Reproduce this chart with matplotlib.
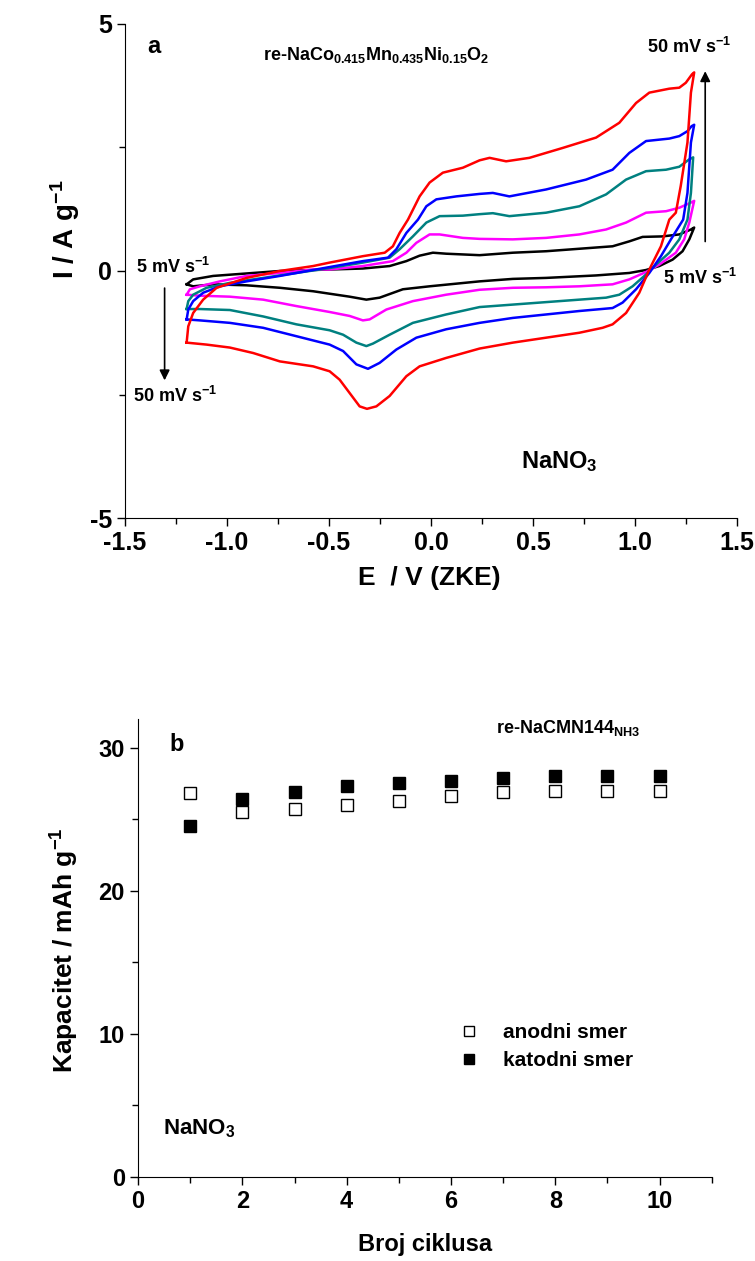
import matplotlib
matplotlib.use('Agg')
import matplotlib.pyplot as plt
from matplotlib.ticker import MultipleLocator

plt.rcParams['font.family'] = ['Liberation Sans', 'DejaVu Sans']
plt.rcParams['font.weight'] = 'bold'
plt.rcParams['axes.labelweight'] = 'bold'
plt.rcParams['axes.unicode_minus'] = False
plt.rcParams['mathtext.fontset'] = 'custom'
plt.rcParams['mathtext.rm'] = 'Liberation Sans:bold'
plt.rcParams['mathtext.it'] = 'Liberation Sans:bold'
plt.rcParams['mathtext.bf'] = 'Liberation Sans:bold'

# ---- (a) CV krive, E / V i I / A g-1, anodni pa katodni smer ----
E_50 = [-1.198, -1.190, -1.166, -1.117, -1.051, -0.904, -0.741, -0.578, -0.497, -0.334,
        -0.227, -0.187, -0.154, -0.113, -0.056, -0.007, 0.058, 0.156, 0.238, 0.287,
        0.368, 0.482, 0.645, 0.809, 0.923, 1.005, 1.070, 1.168, 1.217, 1.249, 1.279, 1.290,
        1.274, 1.257, 1.224, 1.200, 1.168, 1.127, 1.070, 1.021, 0.956, 0.890, 0.841,
        0.727, 0.564, 0.401, 0.238, 0.074, -0.056, -0.121, -0.203, -0.268, -0.314,
        -0.350, -0.399, -0.448, -0.497, -0.578, -0.741, -0.872, -0.986, -1.100, -1.198]
I_50 = [-1.45, -1.12, -0.85, -0.58, -0.34, -0.14, 0.00, 0.10, 0.17, 0.30,
        0.37, 0.50, 0.77, 1.04, 1.51, 1.79, 1.99, 2.09, 2.24, 2.29,
        2.22, 2.29, 2.49, 2.70, 3.00, 3.40, 3.61, 3.69, 3.71, 3.81, 3.98, 4.02,
        3.61, 2.60, 1.72, 1.18, 1.04, 0.50, 0.03, -0.44, -0.85, -1.08, -1.15,
        -1.25, -1.35, -1.45, -1.57, -1.76, -1.93, -2.13, -2.53, -2.74, -2.79,
        -2.74, -2.47, -2.20, -2.03, -1.93, -1.83, -1.66, -1.55, -1.49, -1.45]

E_30 = [-1.198, -1.190, -1.166, -1.117, -1.035, -0.904, -0.741, -0.497, -0.334, -0.211,
        -0.170, -0.121, -0.064, -0.023, 0.026, 0.124, 0.238, 0.303, 0.384, 0.564,
        0.760, 0.890, 0.972, 1.054, 1.168, 1.217, 1.257, 1.277, 1.290,
        1.274, 1.257, 1.236, 1.176, 1.127, 1.070, 1.005, 0.939, 0.890, 0.727,
        0.564, 0.401, 0.238, 0.074, -0.072, -0.170, -0.252, -0.309, -0.366, -0.431,
        -0.497, -0.660, -0.823, -0.986, -1.133, -1.198]
I_30 = [-0.98, -0.78, -0.61, -0.44, -0.31, -0.21, -0.10, 0.08, 0.20, 0.27,
        0.44, 0.77, 1.04, 1.31, 1.45, 1.51, 1.56, 1.58, 1.51, 1.65,
        1.85, 2.05, 2.39, 2.63, 2.68, 2.73, 2.83, 2.93, 2.96,
        2.60, 1.58, 1.04, 0.64, 0.30, -0.04, -0.37, -0.64, -0.75, -0.81,
        -0.88, -0.95, -1.05, -1.18, -1.35, -1.59, -1.86, -1.98, -1.89, -1.62,
        -1.49, -1.32, -1.15, -1.05, -1.00, -0.98]

E_20 = [-1.198, -1.190, -1.166, -1.100, -0.986, -0.823, -0.660, -0.497, -0.334, -0.203,
        -0.154, -0.089, -0.023, 0.042, 0.156, 0.238, 0.303, 0.384, 0.564, 0.727,
        0.858, 0.956, 1.054, 1.152, 1.217, 1.266, 1.285,
        1.274, 1.257, 1.217, 1.168, 1.103, 1.054, 0.988, 0.923, 0.858, 0.727,
        0.564, 0.401, 0.238, 0.074, -0.089, -0.203, -0.285, -0.317, -0.366, -0.431,
        -0.497, -0.660, -0.823, -0.986, -1.133, -1.198]
I_20 = [-0.77, -0.61, -0.48, -0.34, -0.24, -0.14, -0.04, 0.06, 0.17, 0.27,
        0.44, 0.70, 0.98, 1.11, 1.12, 1.15, 1.17, 1.11, 1.18, 1.31,
        1.55, 1.85, 2.02, 2.05, 2.11, 2.26, 2.30,
        1.58, 1.04, 0.64, 0.37, 0.13, -0.07, -0.31, -0.48, -0.54, -0.58,
        -0.63, -0.68, -0.73, -0.88, -1.05, -1.29, -1.47, -1.52, -1.45, -1.29,
        -1.20, -1.08, -0.92, -0.79, -0.77, -0.77]

E_10 = [-1.198, -1.182, -1.133, -1.035, -0.904, -0.741, -0.578, -0.497, -0.334, -0.187,
        -0.121, -0.072, -0.007, 0.042, 0.156, 0.238, 0.401, 0.564, 0.727, 0.858,
        0.956, 1.054, 1.152, 1.217, 1.277, 1.290,
        1.266, 1.241, 1.200, 1.119, 1.054, 0.972, 0.890, 0.727, 0.564, 0.401,
        0.238, 0.074, -0.089, -0.219, -0.301, -0.334, -0.399, -0.497, -0.660, -0.823,
        -0.986, -1.133, -1.198]
I_10 = [-0.48, -0.37, -0.31, -0.21, -0.10, -0.04, 0.03, 0.03, 0.10, 0.20,
        0.37, 0.57, 0.74, 0.74, 0.67, 0.65, 0.64, 0.67, 0.74, 0.84,
        0.98, 1.18, 1.21, 1.28, 1.39, 1.42,
        0.98, 0.64, 0.37, 0.13, -0.02, -0.17, -0.27, -0.31, -0.33, -0.34,
        -0.38, -0.48, -0.61, -0.78, -0.98, -1.00, -0.91, -0.83, -0.71, -0.58,
        -0.52, -0.50, -0.48]

E_5 = [-1.198, -1.166, -1.068, -0.904, -0.741, -0.578, -0.497, -0.334, -0.203, -0.121,
       -0.056, 0.009, 0.074, 0.238, 0.401, 0.564, 0.727, 0.890, 0.972, 1.037,
       1.135, 1.217, 1.274, 1.290,
       1.266, 1.233, 1.184, 1.119, 1.054, 0.972, 0.809, 0.564, 0.401, 0.238,
       -0.007, -0.138, -0.252, -0.317, -0.399, -0.497, -0.578, -0.741, -0.904, -1.068,
       -1.166, -1.198]
I_5 = [-0.27, -0.17, -0.10, -0.05, 0.00, 0.02, 0.03, 0.05, 0.10, 0.20,
       0.31, 0.37, 0.35, 0.32, 0.37, 0.40, 0.45, 0.50, 0.60, 0.69,
       0.70, 0.74, 0.84, 0.88,
       0.64, 0.40, 0.23, 0.10, 0.02, -0.04, -0.09, -0.14, -0.16, -0.21,
       -0.31, -0.37, -0.54, -0.58, -0.52, -0.46, -0.41, -0.34, -0.29, -0.27,
       -0.31, -0.27]

# ---- (b) kapacitet po ciklusima ----
ciklusi = [1, 2, 3, 4, 5, 6, 7, 8, 9, 10]
anodni = [26.8, 25.5, 25.7, 26.0, 26.3, 26.6, 26.9, 27.0, 27.0, 27.0]
katodni = [24.5, 26.4, 26.9, 27.3, 27.5, 27.7, 27.9, 28.0, 28.0, 28.0]

fig = plt.figure(figsize=(7.55, 12.61), dpi=100)

# ---------------- panel a ----------------
ax1 = fig.add_axes([0.1656, 0.5892, 0.8106, 0.3918])
krive = [(E_5, I_5, 'black'), (E_10, I_10, '#ff00ff'), (E_20, I_20, '#008080'),
         (E_30, I_30, '#0000ff'), (E_50, I_50, '#ff0000')]
for E, I, c in krive:
    ax1.plot(E, I, color=c, lw=1.8)

ax1.set_xlim(-1.5, 1.5)
ax1.set_ylim(-5, 5)
ax1.xaxis.set_major_locator(MultipleLocator(0.5))
ax1.xaxis.set_minor_locator(MultipleLocator(0.25))
ax1.yaxis.set_major_locator(MultipleLocator(5))
ax1.yaxis.set_minor_locator(MultipleLocator(2.5))
for s in ['top', 'right']:
    ax1.spines[s].set_visible(False)
ax1.tick_params(which='major', direction='out', length=6, width=1, labelsize=18)
ax1.tick_params(which='minor', direction='out', length=4, width=1)
ax1.set_xlabel('E  / V (ZKE)', fontsize=19)
ax1.xaxis.set_label_coords(0.498, -0.097)
ax1.set_ylabel('I / A g$^{-1}$', fontsize=20)
ax1.yaxis.set_label_coords(-0.07, 0.585)

ax1.annotate('', xy=(1.344, 4.1), xytext=(1.344, 0.54),
             arrowprops=dict(arrowstyle='-|>', color='k', lw=1.2, mutation_scale=15))
ax1.annotate('', xy=(-1.306, -2.27), xytext=(-1.306, -0.29),
             arrowprops=dict(arrowstyle='-|>', color='k', lw=1.2, mutation_scale=15))
ax1.text(1.266, 4.54, '50 mV s$^{-1}$', ha='center', va='center', fontsize=13)
ax1.text(1.32, -0.15, '5 mV s$^{-1}$', ha='center', va='center', fontsize=13)
ax1.text(-1.446, 0.09, '5 mV s$^{-1}$', ha='left', va='center', fontsize=13)
ax1.text(-1.46, -2.52, '50 mV s$^{-1}$', ha='left', va='center', fontsize=13)
ax1.text(-1.39, 4.55, 'a', ha='left', va='center', fontsize=17)
ax1.text(-0.825, 4.38, 're-NaCo$_{0.415}$Mn$_{0.435}$Ni$_{0.15}$O$_2$',
         ha='left', va='center', fontsize=13)
ax1.text(0.63, -3.86, 'NaNO$_3$', ha='center', va='center', fontsize=17)

# ---------------- panel b ----------------
ax2 = fig.add_axes([0.1828, 0.0666, 0.760, 0.3632])
ax2.plot(ciklusi, anodni, 's', mfc='white', mec='k', mew=1, ms=9, label='anodni smer')
ax2.plot(ciklusi, katodni, 's', mfc='k', mec='k', ms=9, label='katodni smer')
ax2.set_xlim(0, 11)
ax2.set_ylim(0, 32)
ax2.xaxis.set_major_locator(MultipleLocator(2))
ax2.xaxis.set_minor_locator(MultipleLocator(1))
ax2.yaxis.set_major_locator(MultipleLocator(10))
ax2.yaxis.set_minor_locator(MultipleLocator(5))
for s in ['top', 'right']:
    ax2.spines[s].set_visible(False)
ax2.tick_params(which='major', direction='out', length=6, width=1, labelsize=17)
ax2.tick_params(which='minor', direction='out', length=4, width=1)
ax2.set_xlabel('Broj ciklusa', fontsize=17)
ax2.xaxis.set_label_coords(0.5, -0.122)
ax2.set_ylabel('Kapacitet / mAh g$^{-1}$', fontsize=19)
ax2.yaxis.set_label_coords(-0.10, 0.496)

ax2.text(0.61, 30.2, 'b', ha='left', va='center', fontsize=17)
ax2.text(6.86, 31.4, 're-NaCMN144$_{\\mathrm{NH3}}$', ha='left', va='center', fontsize=13)
ax2.text(0.48, 3.4, 'NaNO$_3$', ha='left', va='center', fontsize=16)
ax2.legend(loc='upper left', bbox_to_anchor=(0.541, 0.358), frameon=False,
           fontsize=15, handlelength=1, handletextpad=1.1, labelspacing=0.4,
           borderpad=0, markerscale=0.78)

fig.savefig('out.png', dpi=100)
